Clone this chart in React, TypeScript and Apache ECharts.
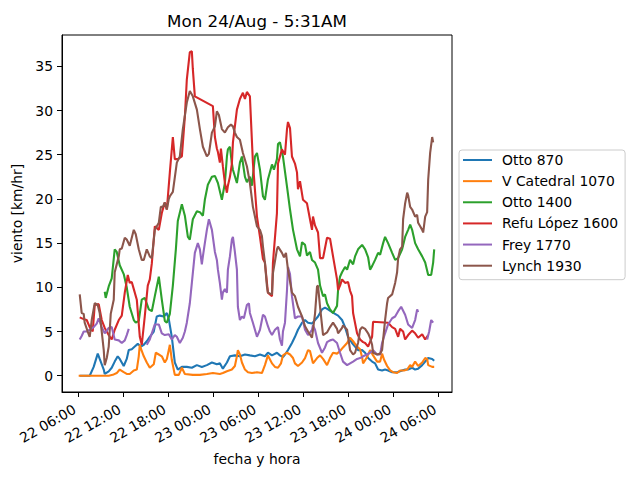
import React, { useEffect, useRef } from "react";
import * as echarts from "echarts";

const TITLE = "Mon 24/Aug - 5:31AM";
const X_NAME = "fecha y hora";
const Y_NAME = "viento [km/hr]";
const SERIES_NAMES = ["Otto 870", "V Catedral 1070", "Otto 1400", "Refu López 1600", "Frey 1770", "Lynch 1930"];
const COLORS = ["#1f77b4", "#ff7f0e", "#2ca02c", "#d62728", "#9467bd", "#8c564b"];

// x values: hours after 22 Aug 06:00
const TICK_HOURS = [0, 6, 12, 18, 24, 30, 36, 42, 48];
const TICK_LABELS = ["22 06:00", "22 12:00", "22 18:00", "23 00:00", "23 06:00", "23 12:00", "23 18:00", "24 00:00", "24 06:00"];
const Y_TICKS = [0, 5, 10, 15, 20, 25, 30, 35];
const X_MIN = -2.13;
const X_MAX = 49.8;
const Y_MIN = -1.84;
const Y_MAX = 38.54;

const otto870 = [
  [0.23, 0], [1.56, 0], [2.09, 1.0], [2.63, 2.5], [2.89, 1.9], [3.43, 0.7], [3.56, 0.2], [4.09, 0.5], [4.49, 0.9],
  [4.89, 1.6], [5.29, 2.2], [5.56, 1.9], [6.09, 1.1], [6.49, 1.9], [6.76, 2.9], [7.16, 3.0], [7.56, 3.3], [7.96, 3.6],
  [8.36, 3.3], [8.76, 3.5], [9.16, 3.9], [9.56, 4.4], [10.09, 5.0], [10.49, 6.7], [10.89, 6.8], [11.43, 6.7],
  [11.83, 7.1], [12.09, 6.4], [12.49, 4.4], [12.89, 1.5], [13.29, 0.7], [13.83, 1.0], [14.49, 1.0], [15.16, 0.9],
  [15.83, 1.2], [16.49, 1.0], [17.16, 1.2], [17.83, 1.5], [18.49, 1.3], [18.89, 1.4], [19.29, 0.8], [19.83, 1.5],
  [20.23, 2.2], [20.89, 2.3], [21.56, 2.2], [22.23, 2.4], [22.89, 2.3], [23.56, 2.2], [24.23, 2.4], [24.89, 2.2],
  [25.29, 2.6], [25.83, 2.3], [26.49, 2.6], [26.89, 2.3], [27.29, 2.1], [27.56, 2.4], [27.96, 2.9], [28.49, 3.7],
  [28.89, 4.4], [29.29, 5.2], [29.83, 6.0], [30.23, 6.3], [30.63, 6.0], [31.16, 5.9], [31.56, 6.3], [31.96, 6.7],
  [32.49, 7.5], [32.89, 7.7], [33.29, 7.5], [33.83, 7.2], [34.23, 7.0], [34.63, 6.8], [35.16, 6.3], [35.56, 5.5],
  [35.96, 4.4], [36.49, 3.7], [36.89, 3.3], [37.29, 2.9], [37.83, 2.9], [38.23, 2.6], [38.63, 2.0], [39.16, 1.6],
  [39.56, 1.4], [39.96, 0.7], [40.49, 0.6], [40.89, 0.7], [41.29, 0.6], [41.83, 0.4], [42.49, 0.4], [43.16, 0.6],
  [43.56, 0.7], [43.96, 0.7], [44.49, 0.9], [44.89, 0.7], [45.29, 0.8], [45.83, 1.2], [46.23, 1.6], [46.63, 2.0],
  [47.16, 1.9], [47.43, 1.7],
];

const vCatedral1070 = [
  [0.09, 0], [1.56, 0], [2.89, 0], [4.09, 0], [4.63, 0.1], [5.16, 0.3], [5.56, 0.7], [6.09, 0.4], [6.49, 0.2],
  [6.89, 0.2], [7.43, 0.6], [7.83, 0.7], [8.09, 2.2], [8.23, 3.5], [8.49, 2.8], [8.76, 2.2], [9.16, 1.5], [9.56, 0.9],
  [10.09, 1.3], [10.36, 2.6], [10.76, 2.4], [11.16, 2.2], [11.56, 1.5], [11.83, 1.9], [12.09, 2.9], [12.23, 3.5],
  [12.49, 1.8], [12.89, 0.1], [13.43, 0.1], [13.83, 0.9], [14.23, 0.2], [15.29, 0.1], [16.23, 0.1], [17.16, 0.2],
  [17.96, 0.3], [18.89, 0.2], [19.29, 0.3], [19.83, 0.5], [20.49, 0.7], [20.89, 1.1], [21.16, 2.2], [21.29, 2.9],
  [21.56, 2.4], [21.83, 1.5], [22.23, 0.7], [22.63, 0.4], [23.16, 0.3], [23.83, 0.4], [24.49, 0.3], [24.89, 1.2],
  [25.29, 2.3], [25.83, 1.4], [26.23, 1.0], [26.63, 0.9], [27.03, 1.4], [27.29, 2.3], [27.83, 2.6], [28.23, 2.4],
  [28.63, 2.0], [28.89, 1.4], [29.29, 1.1], [29.83, 1.5], [30.23, 2.0], [30.63, 2.9], [30.89, 2.8], [31.29, 1.4],
  [31.83, 2.0], [32.23, 2.3], [32.63, 1.9], [33.16, 1.2], [33.56, 2.0], [33.96, 2.6], [34.49, 2.5], [34.89, 2.8],
  [35.29, 3.2], [35.83, 3.7], [36.23, 4.3], [36.63, 3.9], [37.16, 3.3], [37.56, 3.0], [37.83, 2.1], [37.96, 1.4],
  [38.49, 2.1], [38.89, 2.9], [39.29, 2.3], [39.83, 1.6], [40.23, 1.6], [40.49, 2.5], [40.76, 1.8], [41.16, 1.1],
  [41.56, 0.6], [41.96, 0.4], [42.49, 0.3], [42.89, 0.6], [43.43, 0.6], [43.83, 0.7], [44.23, 1.2], [44.49, 1.0],
  [44.89, 1.6], [45.29, 1.1], [45.83, 1.5], [46.23, 2.0], [46.49, 1.9], [46.63, 1.2], [47.16, 1.0], [47.43, 1.0],
];

const otto1400 = [
  [3.56, 9.5], [3.69, 8.8], [4.09, 10.1], [4.49, 11.0], [4.89, 14.3], [5.16, 14.0], [5.56, 12.5], [6.09, 11.5],
  [6.49, 10.0], [6.89, 7.8], [7.43, 6.3], [7.69, 6.0], [8.09, 6.2], [8.49, 8.6], [8.89, 8.8], [9.43, 7.5], [9.83, 7.3],
  [10.23, 9.0], [10.76, 11.2], [11.16, 8.6], [11.56, 6.2], [11.83, 6.0], [12.23, 7.0], [12.63, 10.2], [13.03, 14.3],
  [13.29, 17.5], [13.83, 19.4], [14.23, 18.1], [14.63, 15.7], [14.89, 15.4], [15.29, 17.7], [15.83, 18.6],
  [16.23, 18.5], [16.63, 18.1], [16.89, 19.9], [17.29, 21.6], [17.83, 22.5], [18.23, 22.6], [18.63, 21.8],
  [19.16, 19.9], [19.56, 21.8], [19.83, 24.8], [19.96, 25.6], [20.23, 25.9], [20.49, 24.0], [20.63, 23.3],
  [21.16, 21.8], [21.56, 24.1], [21.83, 24.8], [22.23, 22.5], [22.49, 21.9], [22.89, 22.5], [23.16, 21.5],
  [23.56, 24.8], [23.83, 25.2], [24.23, 23.3], [24.63, 20.3], [24.89, 19.9], [25.29, 22.2], [25.83, 23.9],
  [26.09, 23.3], [26.49, 24.5], [26.63, 26.2], [26.89, 26.4], [27.29, 24.8], [27.83, 21.4], [28.23, 18.8],
  [28.63, 16.5], [29.16, 14.3], [29.56, 13.5], [29.83, 15.1], [30.23, 14.8], [30.49, 13.6], [30.89, 14.0],
  [31.16, 13.1], [31.56, 12.8], [31.96, 12.0], [32.23, 10.2], [32.63, 9.0], [32.89, 9.2], [33.16, 8.2], [33.56, 7.5],
  [33.96, 7.1], [34.49, 7.9], [34.63, 9.7], [34.89, 11.2], [35.16, 11.7], [35.56, 12.3], [35.83, 12.0], [36.23, 13.1],
  [36.63, 12.6], [36.89, 13.5], [37.29, 14.3], [37.83, 14.8], [38.23, 14.3], [38.63, 13.4], [38.89, 12.0],
  [39.16, 12.4], [39.56, 13.1], [39.96, 13.9], [40.23, 13.7], [40.63, 15.0], [40.89, 15.7], [41.29, 15.0],
  [41.83, 13.9], [42.23, 13.1], [42.63, 13.3], [43.16, 14.3], [43.56, 15.7], [43.96, 16.5], [44.23, 17.1],
  [44.49, 16.5], [44.89, 15.0], [45.29, 14.3], [45.83, 13.5], [46.23, 12.8], [46.63, 11.4], [47.03, 11.4],
  [47.29, 12.8], [47.43, 14.3],
];

const refuLopez1600 = [
  [0.23, 6.6], [0.76, 6.4], [1.16, 6.3], [1.56, 5.5], [1.96, 5.0], [2.23, 8.0], [2.76, 8.1], [3.16, 6.3], [3.56, 5.4],
  [4.09, 4.6], [4.49, 4.1], [4.89, 5.2], [5.43, 6.3], [5.83, 6.8], [6.23, 9.4], [6.63, 11.4], [6.89, 10.5],
  [7.16, 10.6], [7.43, 9.8], [7.83, 8.6], [8.23, 4.4], [8.49, 3.5], [8.89, 6.7], [9.29, 10.2], [9.56, 10.9],
  [9.83, 12.7], [10.23, 16.9], [10.76, 16.5], [11.16, 18.4], [11.56, 19.6], [11.83, 18.8], [12.23, 23.0],
  [12.63, 27.0], [12.89, 24.5], [13.29, 24.5], [13.83, 24.8], [14.23, 29.3], [14.49, 33.5], [14.89, 36.6],
  [15.16, 36.7], [15.29, 34.7], [15.56, 31.6], [17.96, 30.5], [18.23, 27.0], [18.49, 25.7], [18.63, 25.3],
  [18.89, 24.1], [19.03, 25.7], [19.29, 23.7], [19.56, 21.8], [19.83, 20.7], [19.96, 21.5], [20.23, 22.5],
  [20.49, 24.0], [20.63, 26.4], [21.16, 30.1], [21.56, 31.3], [21.96, 32.0], [22.23, 31.3], [22.49, 32.1],
  [22.89, 31.6], [23.29, 24.1], [23.83, 18.0], [24.23, 15.7], [24.63, 13.2], [24.89, 12.8], [25.29, 9.4],
  [25.83, 9.0], [25.96, 12.8], [26.49, 18.4], [26.63, 24.0], [27.16, 25.6], [27.56, 25.0], [27.83, 27.9],
  [27.96, 28.7], [28.23, 28.0], [28.49, 24.8], [28.89, 24.0], [29.16, 23.0], [29.29, 21.1], [29.56, 22.0],
  [29.96, 19.9], [30.49, 19.5], [30.89, 17.7], [31.16, 16.5], [31.29, 18.0], [31.56, 17.0], [31.96, 16.2],
  [32.23, 13.3], [32.63, 13.3], [33.16, 15.6], [33.56, 15.5], [33.96, 13.5], [34.49, 10.9], [34.63, 9.7],
  [34.89, 10.2], [35.16, 10.9], [35.56, 10.5], [35.96, 10.6], [36.23, 9.6], [36.49, 9.0], [36.63, 7.1],
  [37.16, 4.8], [37.56, 4.1], [37.96, 3.8], [38.23, 3.7], [38.63, 3.3], [39.16, 4.4], [39.29, 6.1], [41.29, 6.0],
  [41.83, 5.5], [42.23, 5.3], [42.63, 4.4], [42.89, 5.3], [43.29, 5.0], [43.56, 4.1], [43.96, 4.6], [44.49, 5.1],
  [44.89, 4.8], [45.29, 4.3], [45.83, 4.7], [46.23, 4.1], [46.63, 4.6],
];

const frey1770 = [
  [0.23, 4.1], [0.49, 4.5], [0.76, 5.0], [1.16, 5.0], [1.56, 5.2], [2.09, 5.5], [2.49, 5.9], [2.76, 6.5], [3.16, 5.5],
  [3.56, 4.8], [4.09, 5.4], [4.49, 5.5], [4.89, 4.1], [5.43, 4.0], [5.83, 3.7], [6.23, 4.0], [6.49, 4.6], [6.76, 5.3],
  [7.5, null],
  [9.16, 3.5], [9.56, 4.1], [9.83, 4.8], [10.23, 5.8], [10.76, 5.8], [11.16, 4.8], [11.56, 4.6], [12.09, 4.7],
  [12.49, 4.1], [12.89, 4.6], [13.16, 4.4], [13.56, 3.7], [13.96, 4.3], [14.23, 5.0], [14.49, 6.0], [14.89, 8.2],
  [15.16, 10.5], [15.56, 13.9], [15.96, 15.0], [16.23, 14.3], [16.49, 12.6], [16.63, 13.5], [16.89, 15.0],
  [17.16, 16.5], [17.43, 17.7], [17.83, 16.5], [18.23, 14.0], [18.49, 13.1], [18.63, 12.0], [18.89, 10.5],
  [19.16, 8.6], [19.29, 9.4], [19.56, 9.8], [19.83, 9.4], [19.96, 12.0], [20.23, 13.5], [20.49, 15.4], [20.63, 15.7],
  [20.89, 14.0], [21.16, 12.0], [21.29, 7.8], [21.56, 6.3], [21.83, 6.7], [22.09, 6.5], [22.49, 8.0], [22.76, 8.2],
  [22.89, 7.1], [23.29, 6.0], [23.83, 4.4], [24.23, 5.2], [24.63, 6.9], [24.89, 6.7], [25.29, 5.6], [25.56, 5.0],
  [25.83, 4.6], [26.23, 5.2], [26.63, 5.5], [26.89, 4.1], [27.16, 3.4], [27.29, 5.0], [27.56, 6.0], [27.83, 9.7],
  [27.96, 12.3], [28.23, 11.5], [28.49, 9.0], [28.89, 6.5], [29.29, 6.7], [29.83, 6.7], [30.23, 5.2], [30.63, 4.6],
  [31.16, 5.2], [31.29, 5.7], [31.56, 5.2], [31.96, 3.7], [32.49, 2.6], [32.89, 3.2], [33.16, 3.8], [33.56, 4.0],
  [33.96, 4.1], [34.49, 3.7], [34.89, 2.6], [35.29, 1.6], [35.83, 1.2], [36.23, 1.4], [36.63, 1.6], [37.16, 1.9],
  [37.56, 2.0], [37.96, 2.2], [38.49, 2.4], [38.89, 2.6], [39.29, 2.9], [39.83, 2.4], [40.23, 2.4], [40.49, 3.7],
  [40.89, 4.8], [41.29, 5.8], [41.83, 6.5], [42.23, 6.7], [42.63, 7.3], [43.03, 7.8], [43.56, 6.9], [43.96, 5.8],
  [44.49, 5.4], [44.89, 6.3], [45.16, 7.5], [45.29, 7.2],
  [45.9, null],
  [46.49, 4.1], [46.76, 5.0], [47.03, 6.3], [47.29, 6.0],
];

const lynch1930 = [
  [0.23, 9.2], [0.49, 7.1], [0.76, 7.0], [0.89, 6.0], [1.29, 5.0], [1.56, 4.4], [1.83, 6.3], [2.23, 8.2], [2.63, 8.0],
  [2.89, 7.1], [3.16, 5.0], [3.43, 2.9], [3.56, 1.2], [3.83, 2.0], [4.09, 3.3], [4.36, 7.0], [4.76, 8.6], [4.89, 11.7],
  [5.43, 13.5], [5.56, 14.3], [5.83, 14.4], [6.23, 15.6], [6.49, 15.4], [6.89, 14.7], [7.43, 16.5], [7.69, 16.0],
  [8.09, 14.3], [8.49, 13.1], [8.76, 13.1], [9.16, 14.3], [9.56, 13.5], [9.83, 13.3], [10.23, 16.5], [10.76, 17.3],
  [11.03, 19.1], [11.29, 19.1], [11.56, 19.6], [11.83, 18.8], [12.09, 20.0], [12.23, 20.3], [12.63, 20.8],
  [13.16, 24.1], [13.56, 24.8], [13.96, 27.9], [14.49, 30.9], [14.89, 32.2], [15.29, 31.6], [15.83, 30.1],
  [16.23, 27.9], [16.63, 25.9], [17.16, 24.8], [17.43, 25.1], [17.83, 27.5], [18.23, 28.2], [18.49, 29.9],
  [18.76, 29.5], [19.16, 27.9], [19.56, 27.5], [19.96, 28.1], [20.36, 28.4], [20.63, 28.2], [20.89, 27.5],
  [21.16, 27.0], [21.56, 26.7], [21.96, 25.2], [22.49, 23.7], [22.89, 21.8], [23.29, 19.1], [23.83, 16.9],
  [24.23, 16.5], [24.49, 15.8], [24.63, 14.6], [24.89, 12.8], [25.16, 10.1], [25.29, 9.4], [25.83, 9.2],
  [25.96, 11.6], [26.49, 14.3], [26.63, 14.6], [27.16, 13.9], [27.43, 13.4], [27.69, 13.9], [27.96, 12.0],
  [28.49, 9.4], [28.89, 9.0], [29.29, 7.8], [29.83, 6.7], [30.23, 5.6], [30.63, 5.0], [31.16, 4.3], [31.56, 7.0],
  [31.83, 10.1], [31.96, 10.2], [32.23, 7.8], [32.63, 4.6], [33.16, 4.9], [33.56, 5.5], [33.96, 6.0], [34.49, 5.3],
  [34.63, 4.8], [35.16, 5.4], [35.29, 5.7], [35.83, 5.2], [36.23, 2.9], [36.63, 2.4], [36.89, 2.6], [37.29, 3.7],
  [37.56, 5.2], [37.83, 5.5], [38.23, 5.3], [38.63, 4.8], [38.89, 4.3], [39.16, 3.5], [39.29, 2.6], [39.83, 2.4],
  [40.23, 2.5], [40.49, 2.9], [40.63, 4.1], [40.89, 6.3], [41.16, 8.2], [41.29, 8.8], [41.83, 9.2], [42.23, 10.5],
  [42.49, 11.7], [42.63, 13.3], [42.89, 14.3], [43.16, 14.6], [43.29, 17.7], [43.56, 19.5], [43.83, 20.7],
  [43.96, 20.4], [44.23, 19.1], [44.49, 18.8], [44.89, 18.0], [45.16, 18.2], [45.29, 17.3], [45.56, 16.9],
  [45.83, 16.5], [45.96, 16.2], [46.23, 18.0], [46.49, 18.5], [46.63, 22.2], [46.89, 25.2], [47.16, 27.0],
  [47.29, 26.4],
];

const SERIES_DATA = [otto870, vCatedral1070, otto1400, refuLopez1600, frey1770, lynch1930];

const FONT = "DejaVu Sans";
const FS = 13.9;

export default function App() {
  const ref = useRef<HTMLDivElement>(null);
  useEffect(() => {
    document.body.style.margin = "0";
    if (!ref.current) return;
    const chart = echarts.init(ref.current, undefined, { renderer: "svg" });
    const fmt = (v: number) => {
      const i = TICK_HOURS.indexOf(Math.round(v));
      return i >= 0 ? TICK_LABELS[i] : "";
    };
    chart.setOption({
      animation: false,
      backgroundColor: "#ffffff",
      textStyle: { fontFamily: FONT },
      graphic: [
        {
          type: "text",
          x: 257,
          y: 21,
          style: {
            text: TITLE,
            fill: "#000",
            font: `16.7px '${FONT}'`,
            align: "center",
            verticalAlign: "middle",
          },
        },
      ],
      grid: {
        left: 62,
        top: 35,
        width: 390,
        height: 357,
        show: true,
        borderColor: "#000",
        borderWidth: 1,
        backgroundColor: "transparent",
        containLabel: false,
      },
      legend: {
        data: SERIES_NAMES,
        orient: "vertical",
        left: 459,
        top: 150,
        icon: "rect",
        itemWidth: 29,
        itemHeight: 2,
        itemGap: 7.14,
        padding: [3, 7, 7, 4],
        backgroundColor: "rgba(255,255,255,0.8)",
        borderColor: "#cccccc",
        borderWidth: 1,
        borderRadius: 3,
        selectedMode: false,
        textStyle: { fontSize: FS, fontFamily: FONT, color: "#000", lineHeight: 14, padding: [0, 0, 0, 5] },
      },
      xAxis: {
        type: "value",
        min: X_MIN,
        max: X_MAX,
        name: X_NAME,
        nameLocation: "middle",
        nameGap: 56,
        nameTextStyle: { fontSize: FS, fontFamily: FONT, color: "#000" },
        splitLine: { show: false },
        axisLine: { show: true, onZero: false, lineStyle: { color: "#000", width: 1 } },
        axisTick: { show: true, length: 5, customValues: TICK_HOURS, lineStyle: { color: "#000", width: 1 } },
        axisLabel: {
          customValues: TICK_HOURS,
          rotate: 30,
          margin: 14,
          formatter: fmt,
          fontSize: FS,
          fontFamily: FONT,
          color: "#000",
          padding: [0, 4, 0, 0],
          hideOverlap: false,
        },
      },
      yAxis: {
        type: "value",
        min: Y_MIN,
        max: Y_MAX,
        name: Y_NAME,
        nameLocation: "middle",
        nameGap: 34,
        nameRotate: 90,
        nameTextStyle: { fontSize: FS, fontFamily: FONT, color: "#000" },
        splitLine: { show: false },
        axisLine: { show: true, onZero: false, lineStyle: { color: "#000", width: 1 } },
        axisTick: { show: true, length: 5, customValues: Y_TICKS, lineStyle: { color: "#000", width: 1 } },
        axisLabel: {
          customValues: Y_TICKS,
          margin: 9,
          fontSize: FS,
          fontFamily: FONT,
          color: "#000",
        },
      },
      series: SERIES_NAMES.map((name, i) => ({
        name,
        type: "line",
        data: SERIES_DATA[i],
        showSymbol: false,
        symbol: "none",
        connectNulls: false,
        silent: true,
        color: COLORS[i],
        lineStyle: { color: COLORS[i], width: 2.1 },
        emphasis: { disabled: true },
      })),
    });
    return () => chart.dispose();
  }, []);
  return <div ref={ref} style={{ width: 640, height: 480, position: "fixed", left: 0, top: 0 }} />;
}
